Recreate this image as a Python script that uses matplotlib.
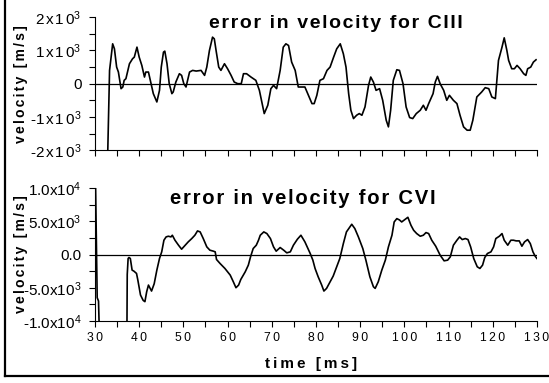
#! /usr/bin/env python3

import matplotlib

matplotlib.use("Agg")
import matplotlib.pyplot as plt
from matplotlib.lines import Line2D
from matplotlib.ticker import FixedLocator, FixedFormatter, MultipleLocator

# error in velocity for CIII (time [ms], velocity [m/s])
t_ciii = [
    32.8, 33.3, 34.0, 34.4, 34.9, 35.3, 35.9, 36.3, 36.6, 37.0, 37.8, 38.5,
    38.9, 39.5, 40.0, 40.6, 41.2, 41.5, 42.1, 42.7, 43.2, 44.0, 44.6, 45.0,
    45.5, 45.8, 46.3, 46.8, 47.4, 47.7, 48.3, 49.1, 49.6, 50.1, 50.6, 51.4,
    52.1, 52.9, 54.0, 54.8, 55.3, 55.9, 56.6, 57.0, 57.4, 58.0, 58.5, 59.3,
    60.0, 60.8, 61.5, 62.3, 63.1, 63.6, 64.3, 65.3, 66.4, 67.2, 68.3, 69.1,
    69.8, 70.4, 71.1, 71.9, 72.6, 73.2, 73.8, 74.5, 75.3, 76.0, 76.8, 77.5,
    78.3, 79.1, 79.6, 80.2, 80.9, 81.7, 82.5, 83.2, 84.0, 84.7, 85.5, 86.2,
    86.8, 87.4, 87.9, 88.5, 89.2, 89.8, 90.4, 91.1, 91.9, 92.4, 93.0, 93.6,
    94.4, 95.1, 95.9, 96.4, 96.9, 97.5, 98.3, 98.9, 99.7, 100.4, 101.2,
    101.9, 102.7, 103.6, 104.3, 104.9, 105.5, 106.5, 107.0, 107.5, 108.1,
    108.9, 109.6, 110.2, 111.1, 111.9, 112.6, 113.4, 114.2, 114.9, 115.5,
    116.4, 117.5, 118.3, 119.1, 119.8, 120.6, 121.3, 122.1, 122.6, 123.2,
    123.6, 124.3, 124.9, 125.5, 126.2, 127.0, 127.5, 127.9, 128.6, 129.2,
    129.8,
]
v_ciii = [
    -2600, 400, 1200, 1050, 500, 350, -150, -100, 100, 150, 600, 750,
    800, 1100, 800, 550, 200, 350, 350, 0, -300, -550, -200, 500,
    950, 980, 600, 0, -300, -250, 50, 300, 250, 0, -100, 350,
    400, 380, 400, 250, 500, 1000, 1400, 1350, 1000, 500, 400, 600,
    450, 250, 50, 0, 0, 300, 300, 200, 100, -200, -900, -650,
    -150, -50, -150, 400, 1100, 1200, 1150, 650, 400, -100, -100, -100,
    -350, -600, -600, -350, 100, 150, 400, 500, 800, 1050, 1200, 900,
    500, -300, -800, -1050, -950, -900, -950, -700, -50, 200, 50, -200,
    -150, -500, -1100, -1300, -800, 100, 420, 400, 0, -700, -1020,
    -1050, -900, -800, -650, -800, -600, -300, 50, 220, 0,
    -200, -500, -350, -500, -600, -950, -1300, -1400, -1400, -1100,
    -400, -250, -120, -150, -400, -450, 700, 1100, 1380, 1000,
    700, 450, 450, 550, 450, 300, 250, 450, 500, 650,
    720,
]

# error in velocity for CVI
t_cvi = [
    30.1, 30.4, 30.5, 30.8, 31.0, 33.0, 35.0, 37.2, 37.3, 37.5, 37.7, 38.0,
    38.4, 38.8, 39.4, 39.7, 40.3, 40.9, 41.3, 41.7, 42.1, 42.5, 42.8, 43.4,
    44.0, 44.6, 45.1, 45.6, 46.1, 46.6, 47.2, 47.5, 48.1, 48.9, 49.6, 50.4,
    51.1, 51.9, 52.6, 53.2, 53.8, 54.5, 55.3, 56.0, 56.8, 57.2, 57.5, 58.3,
    59.4, 60.6, 61.3, 61.9, 62.5, 63.0, 64.0, 64.7, 65.2, 65.8, 66.5, 67.0,
    67.4, 68.2, 68.9, 69.7, 70.4, 71.0, 71.9, 72.7, 73.4, 74.2, 74.9, 75.8,
    76.6, 77.5, 78.7, 79.3, 79.8, 80.5, 81.3, 81.8, 82.4, 83.2, 83.9, 84.7,
    85.4, 86.2, 86.9, 88.1, 88.8, 89.6, 90.6, 91.3, 92.2, 93.0, 93.4, 94.1,
    94.9, 95.7, 96.4, 97.2, 97.7, 98.3, 98.9, 99.4, 100.0, 100.8, 101.5,
    102.1, 102.8, 103.6, 104.3, 104.9, 105.5, 106.2, 107.1, 108.1, 109.0,
    109.8, 110.4, 111.1, 111.9, 112.5, 113.1, 113.8, 114.4, 115.0, 115.7,
    116.5, 117.1, 117.7, 118.2, 118.8, 119.6, 120.2, 120.7, 121.5, 122.1,
    122.6, 123.4, 124.1, 124.7, 125.3, 126.0, 126.6, 127.2, 127.9, 128.5,
    129.1, 129.6, 130.0,
]
v_cvi = [
    12000, -2000, -6500, -7000, -12000, -15000, -15000, -15000, -3000, -600, -450, -600,
    -2350, -2500, -2850, -3850, -6100, -6900, -7100, -5600, -4600, -5100, -5500, -4400,
    -2350, -600, 400, 2150, 2650, 2750, 2650, 2900, 2150, 1400, 800, 1400,
    1900, 2400, 2900, 3550, 3400, 2400, 1150, 650, 500, 400, -750, -1350,
    -2100, -3100, -4100, -5000, -4600, -3750, -2600, -1600, -350, 900, 1400, 2150,
    2900, 3400, 3150, 2400, 1150, 500, 1050, 650, 250, 400, 1400, 2300,
    2900, 1900, 150, -850, -2100, -3350, -4600, -5500, -5100, -4100, -3250, -1850,
    -600, 1650, 3400, 4550, 3900, 2650, 900, -850, -3350, -4850, -5100, -4100,
    -2350, -850, 1150, 2900, 4900, 5400, 5200, 4900, 5200, 5600, 4400,
    3650, 3150, 2750, 2900, 3300, 3150, 2150, 1250, -100, -950,
    -850, -350, 1400, 2150, 2650, 2250, 2400, 2250, 1150, -600,
    -1850, -2100, -1600, -450, 150, 400, 1150, 2400, 2750, 3150,
    2150, 1400, 2150, 2150, 2050, 2050, 1250, 1900, 2250, 1650,
    400, -250, -600,
]

ticks_ciii = [-2000, -1000, 0, 1000, 2000]
labels_ciii = [
    r"-$2\hspace{0.15}x\hspace{0.15}1\hspace{0.15}0^{3}$",
    r"-$1\hspace{0.15}x\hspace{0.15}1\hspace{0.15}0^{3}$",
    "0",
    r"$1\hspace{0.15}x\hspace{0.15}1\hspace{0.15}0^{3}$",
    r"$2\hspace{0.15}x\hspace{0.15}1\hspace{0.15}0^{3}$",
]
ticks_cvi = [-10000, -5000, 0, 5000, 10000]
labels_cvi = [
    r"-$1.0x10^{4}$",
    r"-$5.0x10^{3}$",
    "0.0",
    r"$5.0x10^{3}$",
    r"$1.0x10^{4}$",
]
xticks = [30, 40, 50, 60, 70, 80, 90, 100, 110, 120, 130]

FAMILY = ["Liberation Sans", "DejaVu Sans"]
HAIR = "\u200a"
THIN = "\u2009"
SIXTH = "\u2006"


def spaced(s, gap):
    # the original figure has wide letter spacing everywhere
    return gap.join(s)


def styleAxes(ax, yticks, ylabels, minor):
    ax.spines["top"].set_visible(False)
    ax.spines["right"].set_visible(False)
    ax.set_xlim(30, 130)
    ax.set_ylim(yticks[0], yticks[-1])
    ax.yaxis.set_major_locator(FixedLocator(yticks))
    ax.yaxis.set_major_formatter(FixedFormatter(ylabels))
    ax.yaxis.set_minor_locator(MultipleLocator(minor))
    ax.xaxis.set_major_locator(FixedLocator(xticks))
    ax.xaxis.set_minor_locator(MultipleLocator(5))
    ax.tick_params(which="both", direction="out", length=4, width=0.8)
    ax.tick_params(axis="y", labelsize=11, pad=5.5)
    ax.tick_params(axis="x", labelsize=8.7, pad=4)
    ax.axhline(0, color="black", lw=0.9)
    ax.set_ylabel(spaced("velocity [m/s]", SIXTH), fontsize=10,
                  fontweight="bold", family=FAMILY, va="center")
    ax.yaxis.set_label_coords(-0.167, 0.5)


def main():
    plt.rcParams["font.family"] = FAMILY
    plt.rcParams["mathtext.fontset"] = "custom"
    plt.rcParams["mathtext.rm"] = "Liberation Sans"
    plt.rcParams["mathtext.it"] = "Liberation Sans:italic"
    plt.rcParams["mathtext.bf"] = "Liberation Sans:bold"
    plt.rcParams["mathtext.default"] = "regular"

    fig = plt.figure(figsize=(5.49, 3.83), dpi=100)
    ax1 = fig.add_axes([0.173, 0.608, 0.805, 0.347])
    ax2 = fig.add_axes([0.173, 0.162, 0.805, 0.347])

    ax1.plot(t_ciii, v_ciii, color="black", lw=1.2)
    styleAxes(ax1, ticks_ciii, labels_ciii, 500)
    ax1.set_xticklabels([])
    ax1.text(0.544, 0.955, spaced("error in velocity for CIII", HAIR),
             transform=ax1.transAxes, ha="center", va="center",
             fontsize=14, fontweight="bold", family=FAMILY)

    ax2.plot(t_cvi, v_cvi, color="black", lw=1.2)
    styleAxes(ax2, ticks_cvi, labels_cvi, 2500)
    ax2.set_xticklabels([spaced(str(x), THIN) for x in xticks])
    ax2.set_xlabel(spaced("time [ms]", THIN), fontsize=11, fontweight="bold",
                   family=FAMILY, labelpad=4)
    ax2.xaxis.set_label_coords(0.488, -0.27)
    ax2.text(0.47, 0.925, spaced("error in velocity for CVI", HAIR),
             transform=ax2.transAxes, ha="center", va="center",
             fontsize=14.6, fontweight="bold", family=FAMILY)

    # border on the left and bottom of the picture
    fig.add_artist(Line2D([5 / 549, 5 / 549], [7 / 383, 1.0], color="black", lw=1.6,
                          transform=fig.transFigure))
    fig.add_artist(Line2D([5 / 549, 1.0], [7 / 383, 7 / 383], color="black", lw=1.6,
                          transform=fig.transFigure))

    fig.savefig("out.png", dpi=100)


if __name__ == "__main__":
    main()
